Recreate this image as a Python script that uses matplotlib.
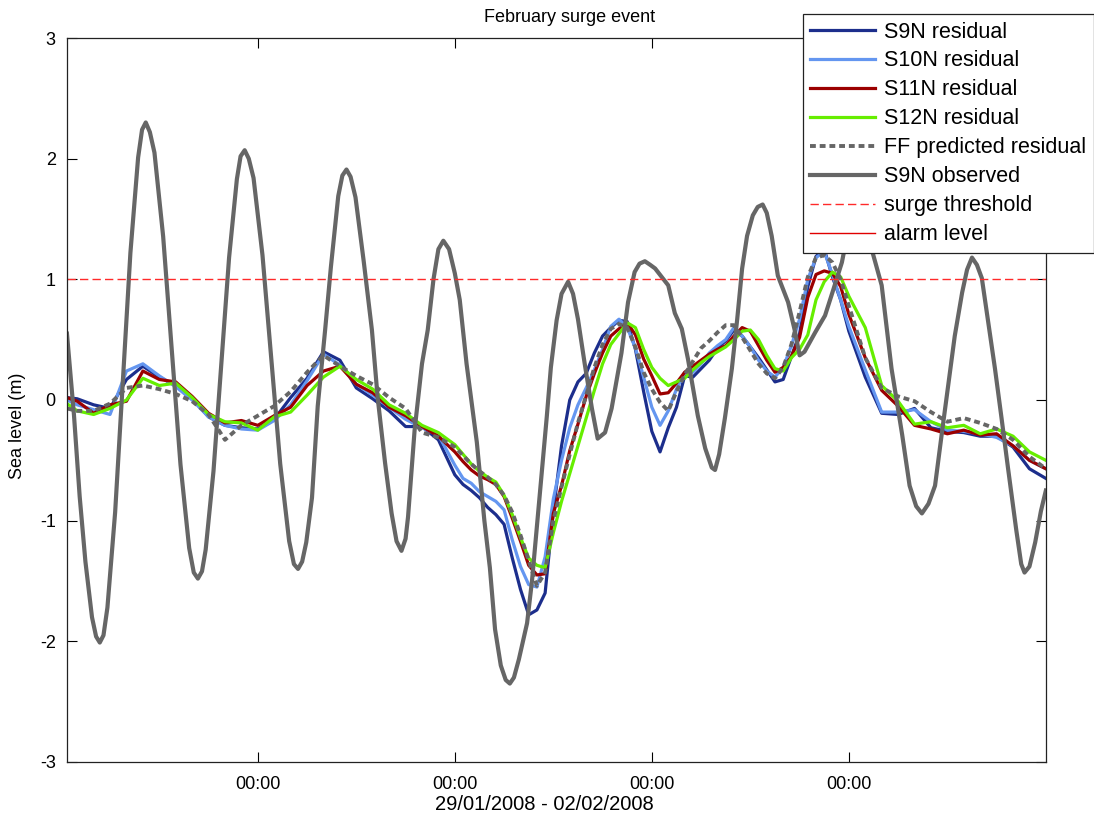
import matplotlib
matplotlib.use("Agg")
import matplotlib.pyplot as plt
from matplotlib.lines import Line2D

plt.rcParams["font.family"] = ["Liberation Sans", "DejaVu Sans"]
plt.rcParams["axes.unicode_minus"] = False

# hours since 29/01/2008 00:00
obs_hours = [0.75, 1.6, 2.3, 3.0, 3.8, 4.3, 4.75, 5.2, 5.68, 6.62, 7.55, 8.48, 9.42, 9.9,
             10.35, 10.85, 11.41, 12.47, 13.53, 14.58, 15.64, 16.2, 16.7, 17.2, 17.65, 18.6,
             19.55, 20.5, 21.45, 21.9, 22.4, 22.9, 23.48, 24.57, 25.65, 26.73, 27.82, 28.4,
             28.9, 29.4, 29.9, 30.6, 31.3, 32.2, 32.9, 33.8, 34.3, 34.8, 35.3, 35.9, 36.9,
             37.9, 38.6, 39.5, 40.3, 40.9, 41.5, 42.0, 42.3, 43.1, 44.0, 44.7, 45.4, 46.0,
             46.6, 47.3, 48.0, 48.6, 49.43, 50.68, 51.6, 52.27, 52.9, 53.6, 54.2, 54.7, 55.2,
             55.8, 56.8, 57.4, 58.0, 59.2, 59.7, 60.4, 61.0, 61.8, 62.4, 63.0, 63.8, 64.7,
             65.4, 66.3, 67.1, 68.3, 69.1, 69.9, 70.5, 71.15, 71.8, 72.4, 73.2, 74.0, 74.8,
             75.65, 76.4, 77.6, 78.5, 79.3, 79.7, 80.2, 80.9, 81.75, 82.4, 83.0, 83.6, 84.3,
             84.9, 85.5, 86.0, 86.6, 87.35, 88.6, 89.4, 90.0, 90.6, 91.9, 93.1, 93.9, 95.15,
             95.5, 96.3, 97.2, 98.1, 98.9, 100.0, 101.2, 102.5, 103.4, 104.2, 104.9, 105.7,
             106.5, 107.3, 108.1, 108.9, 109.8, 110.4, 111.0, 111.6, 112.2, 112.9, 113.8,
             114.6, 115.4, 116.4, 117.0, 117.4, 118.0, 118.7, 119.4, 120.0]
s9n_observed = [0.55, -0.12, -0.80, -1.34, -1.80, -1.96, -2.01, -1.95, -1.72, -0.93, 0.145, 1.22,
                2.01, 2.24, 2.30, 2.22, 2.05, 1.355, 0.41, -0.535, -1.227, -1.43, -1.48, -1.42,
                -1.24, -0.59, 0.295, 1.18, 1.83, 2.02, 2.07, 2.00, 1.84, 1.20, 0.335, -0.53,
                -1.17, -1.36, -1.40, -1.34, -1.18, -0.81, -0.05, 0.58, 1.10, 1.69, 1.86, 1.91,
                1.85, 1.68, 1.15, 0.58, 0.02, -0.52, -0.94, -1.17, -1.25, -1.15, -0.97, -0.25,
                0.30, 0.58, 1.00, 1.25, 1.32, 1.25, 1.05, 0.83, 0.30, -0.35, -1.00, -1.39,
                -1.90, -2.20, -2.32, -2.35, -2.30, -2.15, -1.85, -1.50, -1.05, -0.14, 0.27,
                0.66, 0.88, 0.98, 0.88, 0.67, 0.31, -0.07, -0.32, -0.27, -0.07, 0.39, 0.81,
                1.06, 1.13, 1.15, 1.12, 1.09, 1.02, 0.95, 0.72, 0.59, 0.34, -0.13, -0.40,
                -0.56, -0.58, -0.45, -0.15, 0.26, 0.67, 1.09, 1.36, 1.53, 1.60, 1.62, 1.55,
                1.36, 1.03, 0.81, 0.58, 0.37, 0.40, 0.56, 0.70, 0.87, 1.14, 1.26, 1.45, 1.55,
                1.42, 1.22, 0.95, 0.26, -0.29, -0.71, -0.88, -0.94, -0.86, -0.71, -0.29, 0.12,
                0.53, 0.89, 1.08, 1.18, 1.12, 1.01, 0.68, 0.26, -0.15, -0.57, -1.08, -1.36,
                -1.43, -1.38, -1.18, -0.92, -0.75]

res_hours = [0.75, 2, 4, 6, 8, 10, 12, 14, 16, 18, 20, 22, 24, 26, 28, 30, 32, 34, 36, 38, 40,
             42, 44, 46, 48,
             49, 50, 51, 52, 53, 54, 55, 56, 57, 58, 59, 60, 61, 62, 63, 64, 65, 66, 67, 68,
             69, 70, 71, 72, 73, 74, 75, 76, 77, 78, 79, 80, 81, 82, 83, 84, 85, 86, 87, 88,
             89, 90, 91, 92, 93, 94, 95, 96,
             98, 100, 102, 104, 106, 108, 110, 112, 114, 116, 118, 120]

s9n_residual = [0.02, 0.01, -0.04, -0.07, 0.17, 0.28, 0.19, 0.12, 0.02, -0.14, -0.21, -0.23,
                -0.24, -0.16, 0.02, 0.18, 0.40, 0.33, 0.10, 0.01, -0.09, -0.22, -0.22, -0.33,
                -0.62,
                -0.70, -0.75, -0.81, -0.89, -0.95, -1.03, -1.31, -1.57, -1.78, -1.74,
                -1.60, -0.92, -0.38, 0.00, 0.15, 0.22, 0.39, 0.53, 0.60, 0.66,
                0.65, 0.42, 0.07, -0.26, -0.43, -0.23, -0.06, 0.20, 0.19, 0.26,
                0.33, 0.43, 0.49, 0.58, 0.53, 0.44, 0.35, 0.25, 0.15, 0.17,
                0.36, 0.55, 0.94, 1.19, 1.25, 1.02, 0.83, 0.57,
                0.19, -0.11, -0.12, -0.07, -0.23, -0.26, -0.27, -0.30, -0.30, -0.39, -0.57, -0.65]
s10n_residual = [0.00, -0.04, -0.08, -0.12, 0.24, 0.30, 0.20, 0.11, 0.00, -0.14, -0.21, -0.24,
                 -0.25, -0.17, -0.04, 0.16, 0.38, 0.29, 0.13, 0.04, -0.06, -0.16, -0.23, -0.29,
                 -0.54,
                 -0.65, -0.69, -0.76, -0.80, -0.84, -0.91, -1.16, -1.38, -1.53, -1.55,
                 -1.30, -0.82, -0.50, -0.23, -0.04, 0.10, 0.25, 0.42, 0.61, 0.67,
                 0.60, 0.43, 0.19, -0.06, -0.21, -0.09, 0.09, 0.23, 0.23, 0.30,
                 0.39, 0.45, 0.50, 0.60, 0.53, 0.44, 0.33, 0.24, 0.19, 0.27,
                 0.45, 0.67, 1.00, 1.18, 1.23, 1.04, 0.83, 0.61,
                 0.25, -0.10, -0.10, -0.08, -0.18, -0.25, -0.26, -0.28, -0.31, -0.38, -0.50, -0.57]
s11n_residual = [0.02, -0.01, -0.11, -0.04, -0.01, 0.24, 0.17, 0.15, 0.03, -0.11, -0.19, -0.17,
                 -0.21, -0.13, -0.06, 0.12, 0.24, 0.28, 0.13, 0.06, -0.06, -0.13, -0.22, -0.30,
                 -0.43,
                 -0.51, -0.58, -0.63, -0.66, -0.70, -0.80, -0.98, -1.17, -1.37, -1.45,
                 -1.44, -0.94, -0.71, -0.42, -0.20, 0.03, 0.22, 0.39, 0.53, 0.59,
                 0.64, 0.54, 0.34, 0.20, 0.05, 0.06, 0.14, 0.23, 0.28, 0.33,
                 0.38, 0.42, 0.45, 0.53, 0.60, 0.57, 0.45, 0.33, 0.23, 0.27,
                 0.36, 0.52, 0.85, 1.04, 1.07, 1.05, 0.94, 0.71,
                 0.35, 0.08, -0.05, -0.21, -0.24, -0.28, -0.25, -0.29, -0.28, -0.38, -0.50, -0.57]
s12n_residual = [-0.03, -0.09, -0.12, -0.07, 0.00, 0.18, 0.12, 0.14, 0.02, -0.12, -0.18, -0.19,
                 -0.25, -0.14, -0.10, 0.04, 0.19, 0.28, 0.17, 0.09, -0.04, -0.11, -0.21, -0.27,
                 -0.37,
                 -0.45, -0.53, -0.59, -0.64, -0.68, -0.79, -0.95, -1.14, -1.31, -1.37,
                 -1.39, -1.10, -0.84, -0.61, -0.38, -0.15, 0.08, 0.30, 0.46, 0.55,
                 0.64, 0.60, 0.42, 0.27, 0.18, 0.12, 0.15, 0.18, 0.25, 0.31,
                 0.36, 0.40, 0.44, 0.50, 0.57, 0.58, 0.50, 0.37, 0.26, 0.24,
                 0.35, 0.42, 0.54, 0.83, 0.98, 1.06, 1.02, 0.86,
                 0.60, 0.12, -0.01, -0.20, -0.18, -0.23, -0.21, -0.28, -0.24, -0.30, -0.43, -0.50]
ff_predicted = [-0.07, -0.09, -0.09, -0.03, 0.10, 0.12, 0.09, 0.05, -0.01, -0.12, -0.33, -0.21,
                -0.13, -0.05, 0.07, 0.23, 0.37, 0.28, 0.20, 0.13, 0.02, -0.07, -0.27, -0.31,
                -0.39,
                -0.46, -0.53, -0.59, -0.64, -0.70, -0.79, -0.93, -1.12, -1.33, -1.54,
                -1.43, -1.00, -0.72, -0.45, -0.19, 0.04, 0.27, 0.46, 0.59, 0.63,
                0.60, 0.44, 0.23, 0.09, -0.02, -0.09, 0.07, 0.21, 0.32, 0.43,
                0.49, 0.56, 0.62, 0.62, 0.52, 0.41, 0.30, 0.22, 0.18, 0.27,
                0.46, 0.73, 1.02, 1.18, 1.20, 1.14, 1.00, 0.78,
                0.35, 0.10, 0.03, -0.01, -0.10, -0.18, -0.15, -0.19, -0.24, -0.33, -0.47, -0.57]

surge_threshold = 1.0
midnight_hours = [24, 48, 72, 96]
midnight_labels = ["00:00", "00:00", "00:00", "00:00"]
y_ticks = [-3, -2, -1, 0, 1, 2, 3]

fig = plt.figure(figsize=(10.94, 8.19), dpi=100)
ax = fig.add_axes([0.0612, 0.0696, 0.8948, 0.884])

ax.plot(res_hours, s9n_residual, color="#1c2e8c", lw=2.3, label="S9N residual")
ax.plot(res_hours, s10n_residual, color="#6496f0", lw=2.3, label="S10N residual")
ax.plot(res_hours, s11n_residual, color="#9b0000", lw=2.3, label="S11N residual")
ax.plot(res_hours, s12n_residual, color="#66ee00", lw=2.3, label="S12N residual")
ax.plot(res_hours, ff_predicted, color="#666666", lw=2.8, linestyle=(0, (1.5, 1.0)),
        label="FF predicted residual")
ax.plot(obs_hours, s9n_observed, color="#666666", lw=3.0, label="S9N observed")
ax.axhline(surge_threshold, color="#ff2a2a", lw=1.0, linestyle=(0, (6, 3)),
           label="surge threshold")
alarm = Line2D([], [], color="#e00000", lw=1.0, label="alarm level")

ax.set_xlim(0.75, 120)
ax.set_ylim(-3, 3)
ax.set_xticks(midnight_hours)
ax.set_xticklabels(midnight_labels)
ax.set_yticks(y_ticks)
ax.tick_params(direction="in", length=7, width=0.8, top=True, right=True, labelsize=13)
ax.tick_params(axis="x", pad=10)
ax.tick_params(axis="y", pad=8)
for s in ax.spines.values():
    s.set_color("#222222")
    s.set_linewidth(0.9)

fig.text(570 / 1094, 1 - 18 / 819, "February surge event", ha="center", va="center",
         fontsize=13)
fig.text(544 / 1094, 1 - 804 / 819, "29/01/2008 - 02/02/2008", ha="center", va="center",
         fontsize=14.5)
fig.text(18 / 1094, 1 - 426 / 819, "Sea level (m)", ha="center", va="center",
         rotation=90, fontsize=13)

handles, labels = ax.get_legend_handles_labels()
handles.append(alarm)
labels.append("alarm level")
leg = fig.legend(handles, labels, loc="upper right", bbox_to_anchor=(1.0, 1 - 14 / 819),
                 fontsize=15.5, frameon=True, fancybox=False, framealpha=1, edgecolor="#222222",
                 handlelength=3.0, handletextpad=0.45, labelspacing=0.37, borderpad=0.35,
                 borderaxespad=0)
leg.get_frame().set_linewidth(0.9)

fig.savefig("out.png", dpi=100)
